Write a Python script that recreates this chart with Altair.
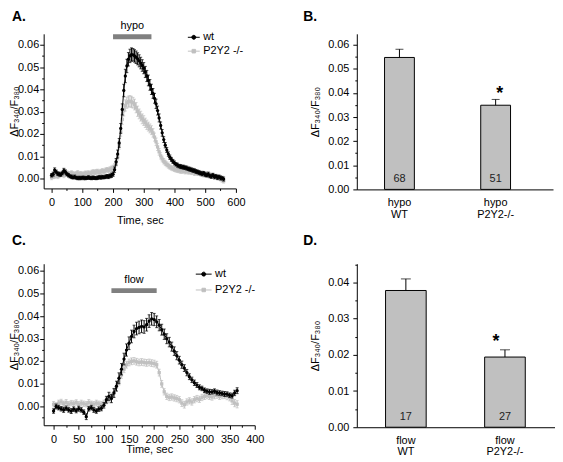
import altair as alt
import pandas as pd

FONT = "Liberation Sans"
YTITLE = "ΔF₃₄₀/F₃₈₀"
GROUPS = ["wt", "P2Y2 -/-"]
BLACK = "#000000"
GRAY = "#c0c0c0"
STIMGRAY = "#808080"

# ---------------- Panel A (hypo) : time series ----------------
tA = list(range(0, 565, 5))
wtA = [0.0015, 0.0020, 0.0038, 0.0030, 0.0022, 0.0020, 0.0018, 0.0025, 0.0036, 0.0030,
       0.0020, 0.0015, 0.0010, 0.0008, 0.0005, 0.0008, 0.0004, 0.0002, 0.0003, 0.0002,
       0.0004, 0.0003, 0.0002, 0.0003, 0.0005, 0.0003, 0.0002, 0.0004, 0.0003, 0.0002,
       0.0004, 0.0006, 0.0005, 0.0007, 0.0006, 0.0008, 0.0010, 0.0009, 0.0012, 0.0015,
       0.0020, 0.0040, 0.0075, 0.0110, 0.0160, 0.0225, 0.0310, 0.0395, 0.0460, 0.0505,
       0.0535, 0.0550, 0.0556, 0.0555, 0.0550, 0.0544, 0.0537, 0.0528, 0.0518, 0.0507,
       0.0495, 0.0478, 0.0460, 0.0440, 0.0420, 0.0400, 0.0382, 0.0360, 0.0335, 0.0305,
       0.0272, 0.0238, 0.0205, 0.0175, 0.0150, 0.0128, 0.0110, 0.0096, 0.0086, 0.0077,
       0.0070, 0.0064, 0.0060, 0.0056, 0.0054, 0.0052, 0.0051, 0.0049, 0.0047, 0.0044,
       0.0042, 0.0040, 0.0037, 0.0036, 0.0032, 0.0030, 0.0027, 0.0024, 0.0021, 0.0024,
       0.0018, 0.0015, 0.0020, 0.0012, 0.0010, 0.0015, 0.0008, 0.0010, 0.0005, 0.0008,
       0.0003, 0.0002, -0.0002]
wtA_err = [0.0008, 0.0009, 0.0010, 0.0008, 0.0008, 0.0009, 0.0008, 0.0008, 0.0010, 0.0009,
           0.0008, 0.0008, 0.0007, 0.0008, 0.0007, 0.0008, 0.0007, 0.0007, 0.0008, 0.0007,
           0.0007, 0.0008, 0.0007, 0.0007, 0.0008, 0.0007, 0.0007, 0.0008, 0.0007, 0.0007,
           0.0008, 0.0007, 0.0008, 0.0008, 0.0007, 0.0008, 0.0008, 0.0009, 0.0009, 0.0010,
           0.0010, 0.0012, 0.0015, 0.0018, 0.0020, 0.0022, 0.0025, 0.0028, 0.0030, 0.0030,
           0.0030, 0.0030, 0.0030, 0.0028, 0.0028, 0.0028, 0.0027, 0.0027, 0.0026, 0.0026,
           0.0025, 0.0025, 0.0025, 0.0024, 0.0024, 0.0023, 0.0022, 0.0022, 0.0021, 0.0020,
           0.0018, 0.0016, 0.0015, 0.0013, 0.0012, 0.0011, 0.0010, 0.0010, 0.0009, 0.0009,
           0.0009, 0.0008, 0.0009, 0.0008, 0.0009, 0.0008, 0.0009, 0.0008, 0.0009, 0.0008,
           0.0009, 0.0008, 0.0009, 0.0008, 0.0009, 0.0008, 0.0009, 0.0008, 0.0009, 0.0008,
           0.0009, 0.0008, 0.0009, 0.0008, 0.0009, 0.0008, 0.0009, 0.0008, 0.0009, 0.0008,
           0.0009, 0.0008, 0.0009]
koA = [0.0005, 0.0010, 0.0012, 0.0015, 0.0010, 0.0015, 0.0018, 0.0020, 0.0015, 0.0022,
       0.0025, 0.0020, 0.0022, 0.0025, 0.0020, 0.0018, 0.0022, 0.0025, 0.0020, 0.0022,
       0.0018, 0.0020, 0.0024, 0.0022, 0.0025, 0.0022, 0.0026, 0.0030, 0.0028, 0.0030,
       0.0032, 0.0028, 0.0030, 0.0035, 0.0032, 0.0036, 0.0040, 0.0038, 0.0042, 0.0045,
       0.0048, 0.0055, 0.0070, 0.0100, 0.0150, 0.0210, 0.0265, 0.0305, 0.0328, 0.0340,
       0.0345, 0.0347, 0.0344, 0.0340, 0.0332, 0.0318, 0.0302, 0.0290, 0.0280, 0.0268,
       0.0260, 0.0250, 0.0241, 0.0233, 0.0225, 0.0217, 0.0205, 0.0186, 0.0165, 0.0142,
       0.0120, 0.0102, 0.0088, 0.0078, 0.0070, 0.0064, 0.0058, 0.0052, 0.0048, 0.0045,
       0.0042, 0.0040, 0.0038, 0.0036, 0.0035, 0.0034, 0.0035, 0.0032, 0.0034, 0.0030,
       0.0032, 0.0028, 0.0030, 0.0025, 0.0028, 0.0024, 0.0026, 0.0022, 0.0025, 0.0018,
       0.0022, 0.0020, 0.0015, 0.0018, 0.0012, 0.0015, 0.0008, 0.0010, 0.0005, 0.0002,
       0.0000, -0.0005, -0.0010]
koA_err = [0.0010, 0.0010, 0.0011, 0.0010, 0.0010, 0.0011, 0.0010, 0.0010, 0.0011, 0.0010,
           0.0010, 0.0011, 0.0010, 0.0010, 0.0011, 0.0010, 0.0010, 0.0011, 0.0010, 0.0010,
           0.0011, 0.0010, 0.0010, 0.0011, 0.0010, 0.0010, 0.0011, 0.0010, 0.0010, 0.0011,
           0.0010, 0.0010, 0.0011, 0.0010, 0.0010, 0.0011, 0.0010, 0.0010, 0.0011, 0.0011,
           0.0012, 0.0012, 0.0014, 0.0016, 0.0018, 0.0020, 0.0022, 0.0024, 0.0025, 0.0025,
           0.0025, 0.0025, 0.0025, 0.0024, 0.0024, 0.0023, 0.0023, 0.0022, 0.0022, 0.0022,
           0.0022, 0.0021, 0.0021, 0.0020, 0.0020, 0.0020, 0.0019, 0.0018, 0.0017, 0.0016,
           0.0015, 0.0014, 0.0013, 0.0012, 0.0012, 0.0011, 0.0011, 0.0010, 0.0010, 0.0010,
           0.0010, 0.0011, 0.0010, 0.0010, 0.0011, 0.0010, 0.0010, 0.0011, 0.0010, 0.0010,
           0.0011, 0.0010, 0.0010, 0.0011, 0.0010, 0.0010, 0.0011, 0.0010, 0.0010, 0.0011,
           0.0010, 0.0010, 0.0011, 0.0010, 0.0010, 0.0011, 0.0010, 0.0010, 0.0011, 0.0010,
           0.0010, 0.0011, 0.0010]

# ---------------- Panel C (flow) : time series ----------------
tC = list(range(0, 370, 5))
wtC = [-0.0020, 0.0000, -0.0005, -0.0010, -0.0015, -0.0008, -0.0015, -0.0020, -0.0012, -0.0018,
       -0.0010, -0.0015, -0.0025, -0.0045, -0.0010, -0.0005, -0.0015, -0.0020, -0.0012, -0.0008,
       0.0005, 0.0030, 0.0045, 0.0035, 0.0060, 0.0090, 0.0125, 0.0165, 0.0210, 0.0250,
       0.0280, 0.0310, 0.0332, 0.0345, 0.0350, 0.0355, 0.0352, 0.0362, 0.0378, 0.0388,
       0.0385, 0.0375, 0.0360, 0.0340, 0.0320, 0.0300, 0.0285, 0.0265, 0.0245, 0.0225,
       0.0205, 0.0185, 0.0170, 0.0150, 0.0132, 0.0118, 0.0105, 0.0095, 0.0085, 0.0080,
       0.0072, 0.0068, 0.0065, 0.0065, 0.0068, 0.0062, 0.0060, 0.0058, 0.0055, 0.0055,
       0.0050, 0.0048, 0.0060, 0.0070]
wtC_err = [0.0010, 0.0011, 0.0010, 0.0010, 0.0011, 0.0010, 0.0010, 0.0011, 0.0010, 0.0010,
           0.0011, 0.0010, 0.0010, 0.0013, 0.0010, 0.0010, 0.0011, 0.0010, 0.0010, 0.0011,
           0.0012, 0.0015, 0.0018, 0.0018, 0.0020, 0.0022, 0.0024, 0.0025, 0.0026, 0.0027,
           0.0028, 0.0028, 0.0028, 0.0028, 0.0028, 0.0028, 0.0028, 0.0028, 0.0028, 0.0028,
           0.0027, 0.0026, 0.0025, 0.0024, 0.0023, 0.0022, 0.0021, 0.0020, 0.0019, 0.0018,
           0.0017, 0.0016, 0.0015, 0.0014, 0.0013, 0.0012, 0.0012, 0.0011, 0.0011, 0.0010,
           0.0010, 0.0010, 0.0011, 0.0010, 0.0010, 0.0011, 0.0010, 0.0010, 0.0011, 0.0010,
           0.0010, 0.0011, 0.0012, 0.0013]
koC = [0.0010, 0.0005, 0.0015, 0.0020, 0.0012, 0.0018, 0.0010, 0.0015, 0.0012, 0.0018,
       0.0010, 0.0015, 0.0012, 0.0010, 0.0018, 0.0012, 0.0010, 0.0015, 0.0012, 0.0010,
       0.0015, 0.0025, 0.0030, 0.0045, 0.0060, 0.0085, 0.0110, 0.0140, 0.0165, 0.0185,
       0.0195, 0.0200, 0.0202, 0.0198, 0.0195, 0.0197, 0.0195, 0.0193, 0.0195, 0.0192,
       0.0190, 0.0185, 0.0150, 0.0100, 0.0065, 0.0045, 0.0040, 0.0042, 0.0038, 0.0035,
       0.0030, 0.0015, 0.0008, 0.0020, 0.0025, 0.0020, 0.0030, 0.0035, 0.0032, 0.0040,
       0.0045, 0.0048, 0.0045, 0.0042, 0.0048, 0.0050, 0.0045, 0.0048, 0.0050, 0.0045,
       0.0040, 0.0025, 0.0015, 0.0010]
koC_err = [0.0012, 0.0012, 0.0013, 0.0012, 0.0012, 0.0013, 0.0012, 0.0012, 0.0013, 0.0012,
           0.0012, 0.0013, 0.0012, 0.0012, 0.0013, 0.0012, 0.0012, 0.0013, 0.0012, 0.0012,
           0.0013, 0.0013, 0.0014, 0.0014, 0.0015, 0.0015, 0.0015, 0.0015, 0.0015, 0.0015,
           0.0015, 0.0015, 0.0015, 0.0015, 0.0015, 0.0015, 0.0015, 0.0015, 0.0015, 0.0015,
           0.0015, 0.0015, 0.0015, 0.0015, 0.0014, 0.0014, 0.0014, 0.0014, 0.0014, 0.0014,
           0.0014, 0.0015, 0.0015, 0.0014, 0.0014, 0.0014, 0.0014, 0.0014, 0.0014, 0.0014,
           0.0014, 0.0014, 0.0014, 0.0014, 0.0014, 0.0014, 0.0014, 0.0014, 0.0015, 0.0015,
           0.0015, 0.0016, 0.0016, 0.0016]

# ---------------- Panels B and D : bar summaries ----------------
catB = ["hypo|WT", "hypo|P2Y2-/-"]
meanB = [0.0547, 0.0349]
errB = [0.0034, 0.0024]
nB = ["68", "51"]
starB = ["", "*"]

catD = ["flow|WT", "flow|P2Y2-/-"]
meanD = [0.0378, 0.0194]
errD = [0.0032, 0.0020]
nD = ["17", "27"]
starD = ["", "*"]

# stimulus periods (start, end, level, label)
stimA = (200, 325, 0.0636, "hypo")
stimC = (115, 205, 0.0513, "flow")

MINOR_Y = "abs(datum.value*100 - round(datum.value*100)) > 0.01"


def y_axis(values, label_pad, title_pad):
    return alt.Axis(
        values=values, title=YTITLE, grid=False,
        labelExpr=f"({MINOR_Y}) ? '' : format(datum.value, '.2f')",
        tickSize={"condition": {"test": MINOR_Y, "value": 2}, "value": 4},
        labelPadding=label_pad, titlePadding=title_pad, labelOverlap=False)


def x_axis(values, major, label_pad, title_pad):
    test = f"datum.value % {major} != 0"
    return alt.Axis(
        values=values, title="Time, sec", grid=False,
        labelExpr=f"({test}) ? '' : datum.label",
        tickSize={"condition": {"test": test, "value": 2}, "value": 4},
        labelPadding=label_pad, titlePadding=title_pad,
        labelFlush=False, labelOverlap=False)


def letter_layer(letter, lx, ly):
    """Panel letter drawn as the title of an otherwise invisible legend."""
    ldf = pd.DataFrame({"k": [letter]})
    leg = alt.Legend(title=letter, orient="none", legendX=lx, legendY=ly,
                     titleFontSize=14, titleFontWeight="bold", titleFont=FONT,
                     titleColor="black", titlePadding=0, padding=0,
                     symbolOpacity=0, symbolSize=0, symbolStrokeWidth=0,
                     symbolFillColor="transparent", symbolStrokeColor="transparent",
                     labelExpr="''", labelColor="transparent", labelOpacity=0,
                     labelFontSize=1)
    return alt.Chart(ldf).transform_filter("false").mark_point().encode(
        opacity=alt.Opacity("k:O", scale=alt.Scale(domain=[letter], range=[0]), legend=leg))


def ts_panel(t, wt, wte, ko, koe, xdom, xaxis, ydom, yaxis, width, height,
             stim, leg_x, leg_y, sym_size, paths, letter, lx, ly):
    rows = []
    for g, vals, errs in ((GROUPS[0], wt, wte), (GROUPS[1], ko, koe)):
        for ti, v, e in zip(t, vals, errs):
            rows.append({"t": ti, "v": v, "lo": v - e, "hi": v + e, "g": g})
    df = pd.DataFrame(rows)
    xs = alt.Scale(domain=xdom, nice=False, zero=False)
    ys = alt.Scale(domain=ydom, nice=False, zero=False)

    def X(f):
        return alt.X(f"{f}:Q", scale=xs, axis=xaxis)

    def Y(f):
        return alt.Y(f"{f}:Q", scale=ys, axis=yaxis)

    layers = []
    for g, col, shape, size in ((GROUPS[1], GRAY, "square", 11), (GROUPS[0], BLACK, "circle", 11)):
        sub = alt.Chart(df).transform_filter(alt.datum.g == g)
        layers += [
            sub.mark_rule(color=col, strokeWidth=1).encode(x=X("t"), y=Y("lo"), y2="hi:Q"),
            sub.mark_tick(orient="horizontal", size=3, thickness=1, color=col).encode(x=X("t"), y=Y("lo")),
            sub.mark_tick(orient="horizontal", size=3, thickness=1, color=col).encode(x=X("t"), y=Y("hi")),
            sub.mark_line(color=col, strokeWidth=1).encode(x=X("t"), y=Y("v")),
            sub.mark_point(filled=True, shape=shape, size=size, color=col, opacity=1).encode(x=X("t"), y=Y("v")),
        ]

    sdf = pd.DataFrame({"x": [stim[0]], "x2": [stim[1]], "y": [stim[2]], "lab": [stim[3]]})
    layers.append(alt.Chart(sdf).mark_rule(color=STIMGRAY, strokeWidth=5).encode(
        x=X("x"), x2="x2:Q", y=Y("y")))
    layers.append(alt.Chart(sdf).transform_calculate(xm="(datum.x + datum.x2) / 2").mark_text(
        dy=-11, fontSize=11, font=FONT, color="black").encode(x=X("xm"), y=Y("y"), text="lab:N"))

    leg = alt.Legend(title=None, orient="none", legendX=leg_x, legendY=leg_y,
                     symbolSize=sym_size, symbolStrokeWidth=1, labelFontSize=11,
                     labelFont=FONT, labelColor="black", rowPadding=2, padding=0, labelOffset=3)
    cs = alt.Scale(domain=GROUPS, range=[BLACK, GRAY])
    ss = alt.Scale(domain=GROUPS, range=paths)
    ldf = pd.DataFrame({"g": GROUPS})
    layers.append(alt.Chart(ldf).transform_filter("false").mark_point(
        filled=True, strokeWidth=1, opacity=1).encode(
        fill=alt.Fill("g:N", scale=cs, legend=leg),
        stroke=alt.Stroke("g:N", scale=cs, legend=leg),
        shape=alt.Shape("g:N", scale=ss, legend=leg)))
    layers.append(letter_layer(letter, lx, ly))
    return alt.layer(*layers).properties(width=width, height=height)


def bar_panel(cats, means, errs, ns, stars, ydom, yvals, width, height,
              pin, pout, align, bar_cap, star_dx, star_dy, ylab_pad, ytitle_pad,
              letter, lx, ly):
    df = pd.DataFrame({"c": cats, "m": means, "hi": [m + e for m, e in zip(means, errs)],
                       "n": ns, "star": stars, "base": [0.0, 0.0]})
    X = alt.X("c:N", sort=cats,
              scale=alt.Scale(paddingInner=pin, paddingOuter=pout, align=align),
              axis=alt.Axis(title=None, ticks=False, labelAngle=0,
                            labelExpr="split(datum.label, '|')", labelPadding=7,
                            labelLineHeight=12))
    ys = alt.Scale(domain=ydom, nice=False, zero=True)
    yax = y_axis(yvals, ylab_pad, ytitle_pad)

    def Y(f):
        return alt.Y(f"{f}:Q", scale=ys, axis=yax)

    base = alt.Chart(df)
    bars = base.mark_bar(fill=GRAY, stroke="black", strokeWidth=1).encode(x=X, y=Y("m"))
    err = base.mark_rule(color="black", strokeWidth=1).encode(x=X, y=Y("m"), y2="hi:Q")
    cap = base.mark_tick(orient="horizontal", size=bar_cap, thickness=1, color="black").encode(x=X, y=Y("hi"))
    ntx = base.mark_text(dy=-10, fontSize=11, font=FONT, color="#222222", baseline="middle").encode(
        x=X, y=Y("base"), text="n:N")
    star = base.mark_text(dx=star_dx, dy=star_dy, fontSize=18, fontWeight="bold", font=FONT,
                          color="black", baseline="alphabetic").encode(x=X, y=Y("hi"), text="star:N")
    return alt.layer(bars, err, cap, ntx, star, letter_layer(letter, lx, ly)).properties(
        width=width, height=height)


yv_A = [round(i * 0.005, 3) for i in range(0, 13)]
yv_C = [round(i * 0.005, 3) for i in range(-1, 13)]
yv_D = [round(i * 0.005, 3) for i in range(0, 10)]

pathsA = ["M-1,0H1M-0.33,0A0.33,0.33,0,1,0,0.33,0A0.33,0.33,0,1,0,-0.33,0Z",
          "M-1,0H1M-0.3,-0.3H0.3V0.3H-0.3Z"]
pathsC = ["M-1,0H1M-0.25,0A0.25,0.25,0,1,0,0.25,0A0.25,0.25,0,1,0,-0.25,0Z",
          "M-1,0H1M-0.22,-0.22H0.22V0.22H-0.22Z"]

A = ts_panel(tA, wtA, wtA_err, koA, koA_err,
             [-25.8, 600], x_axis(list(range(0, 650, 50)), 100, 4, 7),
             [-0.0044, 0.0649], y_axis(yv_A, 1, -2), 194, 156,
             stimA, 145, -3, 144, pathsA, "A.", -32, -24)
C = ts_panel(tC, wtC, wtC_err, koC, koC_err,
             [-19.7, 400], x_axis(list(range(0, 425, 25)), 50, 4, 0),
             [-0.0083, 0.0632], y_axis(yv_C, 1, -2), 213, 163,
             stimC, 153, 2, 256, pathsC, "C.", -32, -30)
B = bar_panel(catB, meanB, errB, nB, starB, [0, 0.0645], yv_A, 198, 157,
              0.69, 0.365, 0.395, 8, 4, 0, 4, 7, "B.", -54, -24)
D = bar_panel(catD, meanD, errD, nD, starD, [0, 0.0452], yv_D, 200, 165,
              0.59, 0.295, 0.4915, 10, -9, -3, 4, 7, "D.", -54, -30)

chart = alt.concat(A, B, C, D, columns=2, spacing={"row": 67, "column": 103},
                   bounds="flush", align="all").resolve_scale(
    x="independent", y="independent", fill="independent",
    stroke="independent", shape="independent", opacity="independent"
).properties(padding=0).configure(
    font=FONT).configure_view(stroke=None).configure_axis(
    domainColor="black", tickColor="black", labelColor="black", titleColor="black",
    labelFont=FONT, titleFont=FONT, labelFontSize=11, titleFontSize=11,
    titleFontWeight="normal", domainWidth=1, tickWidth=1, tickSize=4)

chart.save("out.html", embed_options={"renderer": "svg", "actions": False})
